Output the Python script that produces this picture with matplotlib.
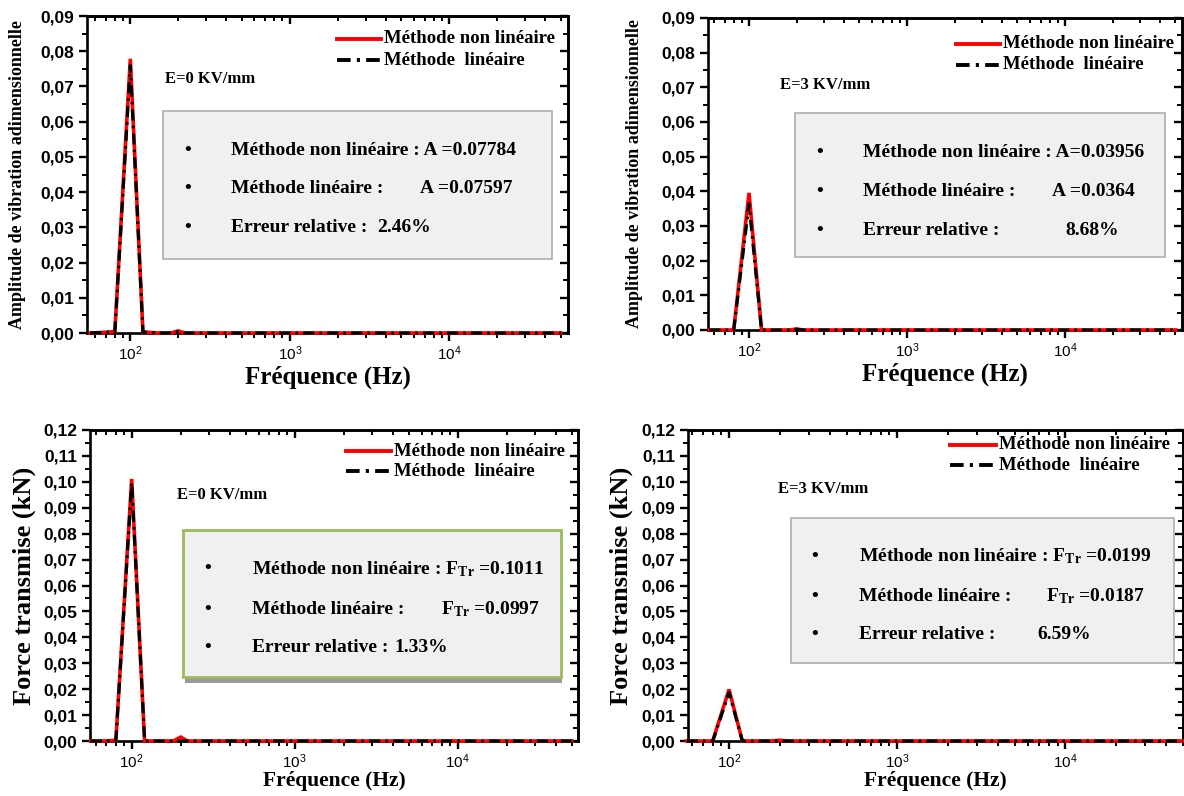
import numpy as np
import matplotlib
matplotlib.use("Agg")
import matplotlib.pyplot as plt
from matplotlib.ticker import (FixedLocator, FuncFormatter, MultipleLocator,
                               LogLocator, NullFormatter)
from matplotlib.patches import Rectangle
from matplotlib.lines import Line2D

plt.rcParams['mathtext.fontset'] = 'custom'
plt.rcParams['mathtext.rm'] = 'Liberation Serif:bold'
plt.rcParams['mathtext.bf'] = 'Liberation Serif:bold'
plt.rcParams['mathtext.it'] = 'Liberation Serif:bold:italic'
plt.rcParams['mathtext.sf'] = 'Liberation Sans'

SERIF = 'Liberation Serif'
SANS = 'Liberation Sans'

# Frequency grid (Hz)
freq = [56, 70, 80, 100, 120, 150, 180, 200, 220, 300, 1000, 10000, 50000]

# Dimensionless vibration amplitude
amp_e0_nonlin = [0, 0.0002, 0.0004, 0.07784, 0.0003, 0, 0, 0.0006, 0, 0, 0, 0, 0]
amp_e0_lin = [0, 0.0002, 0.0004, 0.07597, 0.0003, 0, 0, 0.0004, 0, 0, 0, 0, 0]
amp_e3_nonlin = [0, 0, 0, 0.03956, 0, 0, 0, 0.0003, 0, 0, 0, 0, 0]
amp_e3_lin = [0, 0, 0, 0.0364, 0, 0, 0, 0.0002, 0, 0, 0, 0, 0]

# Transmitted force (kN)
force_e0_nonlin = [0, 0, 0.0003, 0.1011, 0, 0, 0, 0.0015, 0, 0, 0, 0, 0]
force_e0_lin = [0, 0, 0.0003, 0.0997, 0, 0, 0, 0, 0, 0, 0, 0, 0]
force_e3_nonlin = [0, 0, 0, 0.0199, 0, 0, 0, 0.0003, 0, 0, 0, 0, 0]
force_e3_lin = [0, 0, 0, 0.0187, 0, 0, 0, 0.0002, 0, 0, 0, 0, 0]

field_labels = ["E=0 KV/mm", "E=3 KV/mm", "E=0 KV/mm", "E=3 KV/mm"]
legend_labels = ["Méthode non linéaire", "Méthode  linéaire"]
row1_texts = ["Méthode non linéaire : A =0.07784",
              "Méthode non linéaire : A=0.03956",
              r"Méthode non linéaire : F$_{\mathrm{Tr}}$ =0.1011",
              r"Méthode non linéaire : F$_{\mathrm{Tr}}$ =0.0199"]
row2_values = ["A =0.07597", "A =0.0364",
               r"F$_{\mathrm{Tr}}$ =0.0997", r"F$_{\mathrm{Tr}}$ =0.0187"]
row3_values = ["2.46%", "8.68%", "1.33%", "6.59%"]
ylabels = ["Amplitude de vibration adimensionnelle",
           "Amplitude de vibration adimensionnelle",
           "Force transmise (kN)", "Force transmise (kN)"]

W, H = 1184, 796
fig = plt.figure(figsize=(W / 100, H / 100), dpi=100)
fig.patch.set_facecolor('white')


def rect(x0, x1, y0, y1):
    return [x0 / W, 1 - y1 / H, (x1 - x0) / W, (y1 - y0) / H]


panels = [
    dict(rect=rect(87, 568, 16, 333), xlim=(53.5, 55600), ymax=0.09,
         nl=amp_e0_nonlin, lin=amp_e0_lin, ylfs=13, ylx=-0.127, xly=-0.102,
         xlfs=18,
         box=(0.159, 0.966, 0.233, 0.701), bx=0.209, tx=0.300,
         rows=(0.575, 0.455, 0.333), v2x=0.693, v3x=0.604,
         leg=(0.520, 0.929, 0.861), ex=0.162, ey=0.80, green=False),
    dict(rect=rect(708, 1182, 18, 330), xlim=(55, 55000), ymax=0.09,
         nl=amp_e3_nonlin, lin=amp_e3_lin, ylfs=13, ylx=-0.137, xly=-0.105,
         xlfs=18,
         box=(0.184, 0.965, 0.234, 0.695), bx=0.235, tx=0.328,
         rows=(0.568, 0.443, 0.319), v2x=0.726, v3x=0.753,
         leg=(0.524, 0.918, 0.850), ex=0.152, ey=0.785, green=False),
    dict(rect=rect(90, 578, 430, 741), xlim=(55.5, 54700), ymax=0.12,
         nl=force_e0_nonlin, lin=force_e0_lin, ylfs=19, ylx=-0.111, xly=-0.097,
         xlfs=15.5,
         box=(0.191, 0.965, 0.205, 0.680), bx=0.242, tx=0.332,
         rows=(0.554, 0.424, 0.301), v2x=0.719, v3x=0.623,
         leg=(0.525, 0.931, 0.867), ex=0.179, ey=0.792, green=True),
    dict(rect=rect(688, 1183, 430, 741), xlim=(57, 50200), ymax=0.12,
         nl=force_e3_nonlin, lin=force_e3_lin, ylfs=19, ylx=-0.111, xly=-0.097,
         xlfs=15.5,
         box=(0.208, 0.981, 0.250, 0.718), bx=0.256, tx=0.346,
         rows=(0.593, 0.466, 0.343), v2x=0.724, v3x=0.705,
         leg=(0.530, 0.952, 0.886), ex=0.182, ey=0.809, green=False),
]

DASHDOT = (0, (3.5, 1.6, 0.8, 1.6))
yfmt = FuncFormatter(lambda v, p: f"{v:.2f}".replace('.', ','))
xfmt = FuncFormatter(lambda v, p: r'$\mathsf{10^{%d}}$' % round(np.log10(v)))


def decorate_ticks(ax, p):
    ax.set_xscale('log')
    ax.set_xlim(*p['xlim'])
    ax.set_ylim(0, p['ymax'])
    ax.yaxis.set_major_locator(MultipleLocator(0.01))
    ax.yaxis.set_minor_locator(MultipleLocator(0.005))
    ax.yaxis.set_major_formatter(yfmt)
    ax.xaxis.set_major_locator(FixedLocator([100, 1000, 10000]))
    ax.xaxis.set_minor_locator(LogLocator(base=10, subs=np.arange(2, 10), numticks=30))
    ax.xaxis.set_minor_formatter(NullFormatter())
    ax.xaxis.set_major_formatter(xfmt)
    ax.tick_params(which='major', direction='out', length=6, width=1.7,
                   top=False, right=False, pad=3)
    ax.tick_params(which='minor', direction='out', length=3.5, width=1.4,
                   top=False, right=False)
    ax.tick_params(axis='x', which='major', labelsize=11, pad=2)
    for lab in ax.get_yticklabels():
        lab.set_fontfamily(SANS)
        lab.set_fontweight('bold')
        lab.set_fontsize(12.5)
    for s in ax.spines.values():
        s.set_linewidth(1.9)

    top = ax.secondary_xaxis('top')
    top.xaxis.set_major_locator(FixedLocator([100, 1000, 10000]))
    top.xaxis.set_minor_locator(LogLocator(base=10, subs=np.arange(2, 10), numticks=30))
    top.xaxis.set_minor_formatter(NullFormatter())
    top.tick_params(which='major', direction='in', length=6, width=1.7, labeltop=False)
    top.tick_params(which='minor', direction='in', length=3.5, width=1.4)
    top.spines['top'].set_linewidth(1.9)

    right = ax.secondary_yaxis('right')
    right.yaxis.set_major_locator(MultipleLocator(0.01))
    right.yaxis.set_minor_locator(MultipleLocator(0.005))
    right.tick_params(which='major', direction='in', length=6, width=1.7, labelright=False)
    right.tick_params(which='minor', direction='in', length=3.5, width=1.4)
    right.spines['right'].set_linewidth(1.9)


for i, p in enumerate(panels):
    ax = fig.add_axes(p['rect'])
    decorate_ticks(ax, p)

    ax.plot(freq, p['nl'], color='#ff0000', lw=2.6, solid_joinstyle='miter',
            zorder=3, clip_on=False)
    ax.plot(freq, p['lin'], color='black', lw=2.3, linestyle=DASHDOT,
            zorder=4, clip_on=False)

    ax.set_xlabel("Fréquence (Hz)", fontfamily=SERIF, fontweight='bold',
                  fontsize=p['xlfs'])
    ax.xaxis.set_label_coords(0.5, p['xly'])
    ax.set_ylabel(ylabels[i], fontfamily=SERIF, fontweight='bold', fontsize=p['ylfs'])
    ax.yaxis.set_label_coords(p['ylx'], 0.5)

    # legend drawn as handle lines with labels
    lx0, ly1, ly2 = p['leg']
    lx1 = lx0 + 0.092
    ax.add_line(Line2D([lx0, lx1], [ly1, ly1], transform=ax.transAxes,
                       color='#ff0000', lw=2.8, zorder=5))
    ax.add_line(Line2D([lx0, lx1], [ly2, ly2], transform=ax.transAxes,
                       color='black', lw=2.8, linestyle=DASHDOT, zorder=5))
    for yy, lab in zip((ly1, ly2), legend_labels):
        ax.text(lx1 + 0.006, yy, lab, transform=ax.transAxes, fontfamily=SERIF,
                fontweight='bold', fontsize=13.5, va='center', ha='left', zorder=5)

    ax.text(p['ex'], p['ey'], field_labels[i], transform=ax.transAxes,
            fontfamily=SERIF, fontweight='bold', fontsize=12, va='center')

    # summary box
    x0, x1, y0, y1 = p['box']
    if p['green']:
        ax.add_patch(Rectangle((x0 + 0.003, y0 - 0.018), x1 - x0, 0.02,
                               transform=ax.transAxes, facecolor='#9a9a9a',
                               edgecolor='none', zorder=5))
        ax.add_patch(Rectangle((x0, y0), x1 - x0, y1 - y0, transform=ax.transAxes,
                               facecolor='#f0f0f0', edgecolor='#9bbb59', lw=2.0, zorder=6))
    else:
        ax.add_patch(Rectangle((x0, y0), x1 - x0, y1 - y0, transform=ax.transAxes,
                               facecolor='#f0f0f0', edgecolor='#b4b4b4', lw=1.3, zorder=6))

    r1, r2, r3 = p['rows']
    tkw = dict(transform=ax.transAxes, fontfamily=SERIF, fontweight='bold',
               fontsize=14, va='center', ha='left', zorder=7)
    for yy in (r1, r2, r3):
        ax.text(p['bx'], yy, "•", **{**tkw, 'ha': 'center'})
    ax.text(p['tx'], r1, row1_texts[i], **tkw)
    ax.text(p['tx'], r2, "Méthode linéaire :", **tkw)
    ax.text(p['v2x'], r2, row2_values[i], **tkw)
    ax.text(p['tx'], r3, "Erreur relative :", **tkw)
    ax.text(p['v3x'], r3, row3_values[i], **tkw)

fig.savefig("out.png", dpi=100, facecolor='white')
